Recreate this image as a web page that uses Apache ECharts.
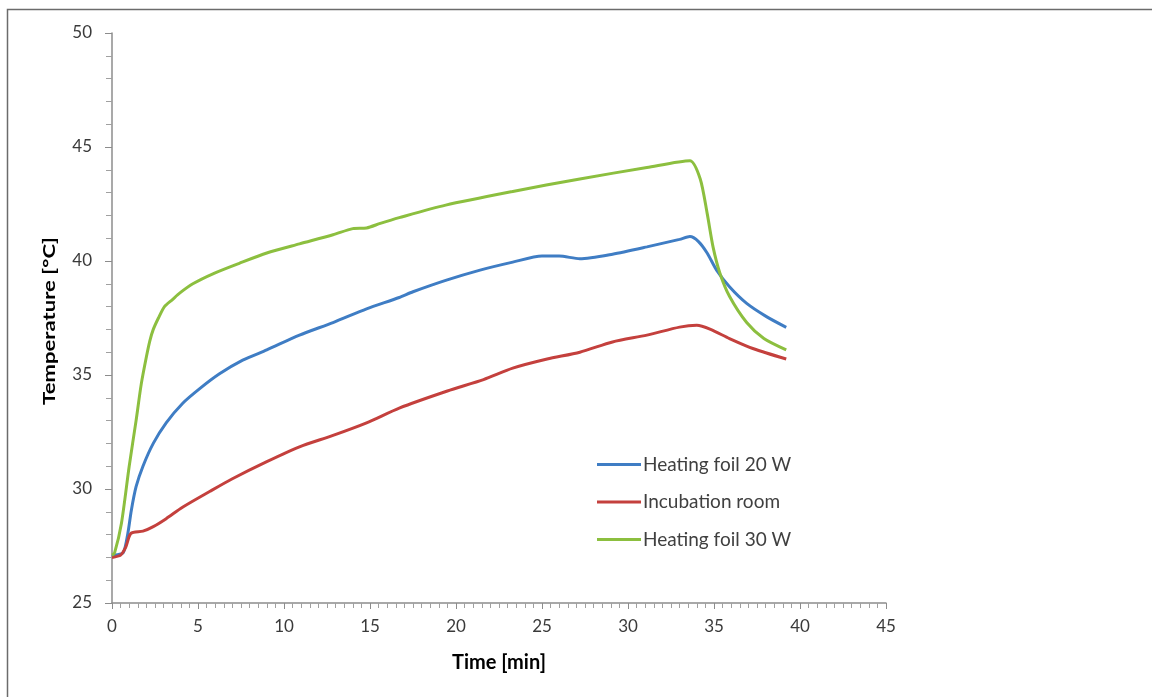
<!DOCTYPE html>
<html>
<head>
<meta charset="utf-8">
<script src="https://cdn.jsdelivr.net/npm/echarts@6/dist/echarts.min.js"></script>
<style>
html,body{margin:0;padding:0;background:#fff;}
#chart{width:1152px;height:697px;}
</style>
</head>
<body>
<div id="chart"></div>
<script>
// Series names
const seriesNames = ['Heating foil 20 W', 'Incubation room', 'Heating foil 30 W'];

// Heating foil 20 W (blue)
const timeBlue = [0, 0.15, 0.65, 0.92, 1.12, 1.4, 1.8, 2.4, 3.15, 4.1, 5.1, 6.25, 7.6, 9.0, 10.9, 12.85, 14.8, 16.7, 17.5, 19.4, 21.4, 23.3, 25.0, 26.0, 27.2, 29.1, 31.1, 33.0, 33.6, 34.1, 34.6, 35.15, 35.9, 36.9, 38.05, 39.2];
const tempBlue = [27.05, 27.1, 27.2, 28.05, 29.05, 30.1, 31.0, 32.0, 32.9, 33.75, 34.4, 35.05, 35.65, 36.1, 36.75, 37.3, 37.9, 38.4, 38.65, 39.15, 39.6, 39.95, 40.22, 40.22, 40.1, 40.3, 40.62, 40.95, 41.07, 40.85, 40.35, 39.6, 38.87, 38.14, 37.56, 37.09];

// Incubation room (red)
const timeRed = [0, 0.5, 0.8, 1.1, 1.8, 2.4, 3.15, 4.1, 5.7, 7.0, 9.0, 10.9, 12.85, 14.8, 16.7, 19.5, 21.6, 23.3, 25.3, 27.2, 29.1, 31.1, 33.0, 34.0, 34.8, 35.9, 37.3, 39.2];
const tempRed = [27.0, 27.1, 27.45, 28.05, 28.15, 28.35, 28.7, 29.2, 29.9, 30.45, 31.2, 31.85, 32.35, 32.9, 33.55, 34.3, 34.8, 35.3, 35.7, 36.0, 36.45, 36.75, 37.1, 37.18, 37.0, 36.6, 36.15, 35.7];

// Heating foil 30 W (green)
const timeGreen = [0, 0.15, 0.55, 1.0, 1.4, 1.7, 2.0, 2.2, 2.4, 2.7, 3.05, 3.5, 3.95, 4.7, 5.9, 7.4, 9.0, 10.9, 12.85, 14.0, 14.8, 15.6, 16.7, 19.4, 23.3, 27.2, 31.1, 33.6, 34.2, 34.6, 34.95, 35.35, 35.9, 36.9, 37.9, 39.2];
const tempGreen = [27.1, 27.2, 28.5, 31.0, 33.0, 34.6, 35.8, 36.5, 37.0, 37.5, 38.0, 38.3, 38.6, 39.0, 39.45, 39.9, 40.35, 40.75, 41.15, 41.42, 41.45, 41.65, 41.9, 42.45, 43.05, 43.6, 44.1, 44.4, 43.6, 42.1, 40.6, 39.45, 38.45, 37.3, 36.6, 36.1];

// Axes
const xTicks = [0, 5, 10, 15, 20, 25, 30, 35, 40, 45];
const yTicks = [25, 30, 35, 40, 45, 50];
const xTitle = 'Time [min]';
const yTitle = 'Temperature [°C]';

const colors = ['#3F7DC4', '#C4403D', '#8CBF3F'];
const zip = (a, b) => a.map((v, i) => [v, b[i]]);
const seriesData = [zip(timeBlue, tempBlue), zip(timeRed, tempRed), zip(timeGreen, tempGreen)];

const chart = echarts.init(document.getElementById('chart'), null, {renderer: 'canvas'});
const FONT = 'Lato';
chart.setOption({
  animation: false,
  backgroundColor: '#ffffff',
  graphic: [{
    type: 'rect',
    shape: {x: 7.5, y: 9.5, width: 1300, height: 1000},
    style: {fill: 'none', stroke: '#6b6b6b', lineWidth: 1.5},
    silent: true, z: 0
  }, {
    type: 'text',
    x: 50, y: 321,
    rotation: Math.PI / 2,
    scaleX: 1.3, scaleY: 1,
    style: {
      text: yTitle, fontFamily: FONT, fontSize: 17, fontWeight: 'bold', fill: '#000',
      align: 'center', verticalAlign: 'middle'
    },
    silent: true, z: 5
  }],
  grid: {left: 112, right: 266, top: 33, bottom: 94, containLabel: false},
  legend: {
    orient: 'vertical',
    left: 592, top: 450,
    itemWidth: 44, itemHeight: 16, itemGap: 18.5,
    icon: 'path://M0,7 L44,7 L44,10 L0,10 Z',
    textStyle: {fontFamily: FONT, fontSize: 19, color: '#404040', padding: [0,0,0,-3]},
    data: seriesNames
  },
  xAxis: {
    type: 'value',
    min: xTicks[0], max: xTicks[xTicks.length - 1], interval: 5,
    name: xTitle, nameLocation: 'middle', nameGap: 50,
    nameTextStyle: {fontFamily: FONT, fontSize: 20, fontWeight: 'bold', color: '#000'},
    axisLine: {show: true, lineStyle: {color: '#8c8c8c', width: 1.5}},
    axisTick: {show: true, inside: false, length: 6, lineStyle: {color: '#8c8c8c'}},
    minorTick: {show: true, splitNumber: 10, length: 5, lineStyle: {color: '#a0a0a0'}},
    axisLabel: {fontFamily: FONT, fontSize: 17, color: '#3a3a3a', margin: 15},
    splitLine: {show: false}
  },
  yAxis: {
    type: 'value',
    min: yTicks[0], max: yTicks[yTicks.length - 1], interval: 5,
    axisLine: {show: true, lineStyle: {color: '#8c8c8c', width: 1.5}},
    axisTick: {show: true, inside: false, length: 7, lineStyle: {color: '#8c8c8c'}},
    minorTick: {show: true, splitNumber: 5, length: 6, lineStyle: {color: '#a0a0a0'}},
    axisLabel: {fontFamily: FONT, fontSize: 17, color: '#3a3a3a', margin: 20},
    splitLine: {show: false}
  },
  series: seriesNames.map((name, i) => ({
    name: name,
    type: 'line',
    data: seriesData[i],
    showSymbol: false,
    symbol: 'none',
    smooth: 0.25,
    color: colors[i],
    lineStyle: {color: colors[i], width: 3},
    z: i === 2 ? 3 : 2
  }))
});
</script>
</body>
</html>
